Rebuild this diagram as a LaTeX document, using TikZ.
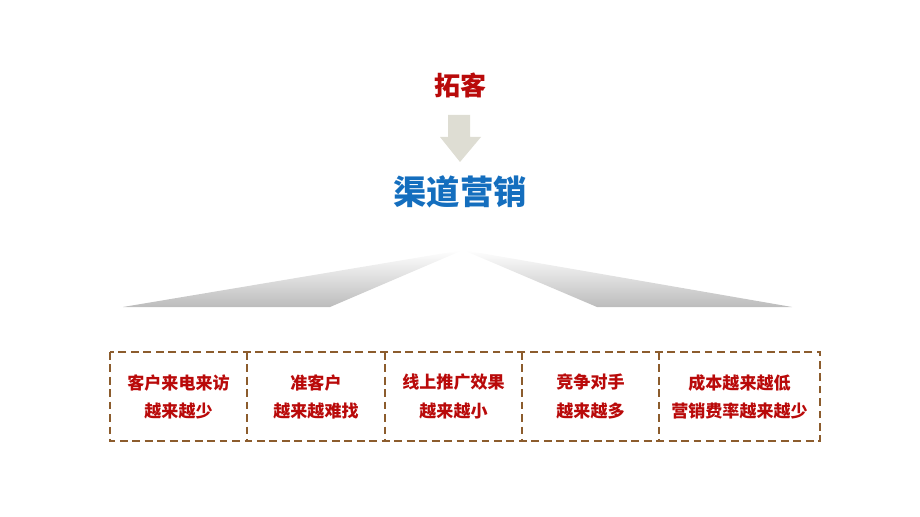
\documentclass[tikz,border=0pt]{standalone}
\usepackage{fontspec}
\newfontfamily\cjk{Noto Sans CJK SC}

\definecolor{tuored}{RGB}{185,10,10}
\definecolor{qdblue}{RGB}{20,110,190}
\definecolor{arrowgray}{RGB}{222,221,211}
\definecolor{wedgegray}{RGB}{188,188,188}
\definecolor{boxbrown}{RGB}{140,92,45}

\tikzset{
    boxline/.style={draw=boxbrown, line width=1.1pt, dash pattern=on 4.5pt off 2.6pt},
    painbox/.style={minimum height=1.78cm, inner sep=0pt, align=center, text=tuored,
        font=\cjk\bfseries\fontsize{9.7pt}{16pt}\selectfont},
}

\begin{document}
\begin{tikzpicture}[x=0.02cm, y=-0.02cm]

    % Canvas, in pixels
    \useasboundingbox (0,0) rectangle (920,517);
    \def\apx{463}
    \def\apy{250}
    \def\base{307}
    \def\ytop{352}
    \def\ybot{441}

    % Title
    \node[font=\cjk\bfseries\fontsize{14.8pt}{16pt}\selectfont, text=tuored] (tuoke) at (460,85) {拓客};

    % Down arrow
    \fill[arrowgray] (448,115) -- (470,115) -- (470,137) -- (481,137) -- (460,162)
        -- (440,137) -- (448,137) -- cycle;

    % Channel marketing
    \node[font=\cjk\bfseries\fontsize{19pt}{22pt}\selectfont, text=qdblue] (qudao) at (460,192) {渠道营销};

    % Fading wedges
    \shade[top color=white, bottom color=wedgegray] (123,\base) -- (\apx,\apy) -- (330,\base) -- cycle;
    \shade[top color=white, bottom color=wedgegray] (597,\base) -- (\apx,\apy) -- (792,\base) -- cycle;

    % Boxes
    \foreach \l/\r/\name/\txt in {110/247/b1/{客户来电来访\\越来越少},
            247/385/b2/{准客户\\越来越难找},
            385/522/b3/{线上推广效果\\越来越小},
            522/659/b4/{竞争对手\\越来越多},
            659/820/b5/{成本越来越低\\营销费率越来越少}} {
        \pgfmathsetmacro\w{(\r-\l)*0.02}
        \node[painbox, minimum width=\w cm] (\name) at ({(\l+\r)/2},{(\ytop+\ybot)/2}) {\txt};
    }

    % Dashed frame and dividers
    \draw[boxline] (b1.north west) rectangle (b5.south east);
    \foreach \n in {b1,b2,b3,b4}
        \draw[boxline] (\n.north east) -- (\n.south east);

\end{tikzpicture}
\end{document}
